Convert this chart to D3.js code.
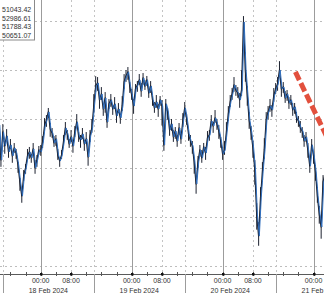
<!DOCTYPE html>
<meta charset="utf-8">
<style>
    html,
    body {
        margin: 0;
        padding: 0;
        background: #fff;
    }

    svg {
        display: block;
    }

    text {
        font-family: "Liberation Sans", Arial, sans-serif;
        font-size: 7px;
        fill: #333;
    }
</style>
<svg id="canvas" width="324" height="293"></svg>
<script src="https://cdn.jsdelivr.net/npm/d3@7/dist/d3.min.js"></script>
<script>
    // 30 minute closes, first one at 17 Feb 2024 13:00 UTC
    const startTime = Date.UTC(2024, 1, 17, 13, 0);
    const stepMinutes = 30;
    const closes = [
        51936, 51580, 51865, 51723, 51824, 51662, 51733, 51621, 51702, 51651,
        51529, 51356, 51214, 51417, 51499, 51621, 51662, 51601, 51692, 51499,
        51580, 51682, 51662, 51763, 51926, 51987, 52069, 51896, 51855, 51753,
        51794, 51631, 51570, 51631, 51763, 51906, 51845, 51743, 51814, 51723,
        51865, 51967, 51824, 51784, 51845, 51743, 51794, 51611, 51824, 51906,
        52130, 52333, 52364, 52191, 52252, 52099, 52211, 51967, 52150, 52191,
        52099, 52150, 52028, 52099, 52008, 52130, 52374, 52435, 52476, 52333,
        52242, 52130, 52303, 52344, 52395, 52283, 52415, 52333, 52395, 52262,
        52333, 52191, 52110, 52171, 52099, 52191, 52130, 51733, 52150, 52069,
        51886, 51947, 51814, 51875, 51774, 51906, 51794, 51977, 52110, 51998,
        51845, 51774, 51723, 51560, 51336, 51560, 51682, 51601, 51713, 51651,
        51804, 51835, 51977, 51926, 52008, 51947, 51875, 51774, 51641, 51682,
        51865, 52048, 52171, 52252, 52344, 52293, 52262, 52191, 52293, 52985,
        52496, 52242, 51987, 51865, 51702, 51478, 51020, 50806, 51193, 51458,
        51682, 51987, 52069, 52130, 52089, 52232, 52303, 52354, 52496, 52303,
        52323, 52211, 52252, 52160, 52191, 52089, 52120, 52008, 51977, 51906,
        51875, 51774, 51814, 51682, 51519, 51733, 51621, 51458, 51214, 51031,
        50898, 51356, 51428
    ];
    // how far each bar traded above / below its close ($)
    const wickUp = [
        60, 40, 80, 50, 70, 40, 60, 30, 50, 40,
        30, 40, 50, 60, 40, 70, 50, 40, 60, 80,
        50, 40, 70, 60, 80, 50, 40, 60, 50, 70,
        40, 60, 30, 50, 70, 60, 40, 50, 70, 40,
        60, 80, 40, 50, 60, 40, 70, 50, 60, 90,
        120, 100, 60, 50, 70, 40, 60, 80, 50, 60,
        40, 70, 50, 60, 40, 100, 80, 60, 50, 40,
        60, 70, 50, 40, 60, 80, 50, 60, 40, 70,
        50, 40, 60, 70, 50, 40, 60, 80, 50, 40,
        60, 50, 70, 40, 60, 50, 40, 80, 60, 50,
        40, 60, 50, 40, 70, 60, 50, 80, 40, 60,
        70, 50, 60, 40, 80, 50, 60, 40, 70, 90,
        100, 80, 70, 60, 80, 50, 60, 70, 200, 60,
        180, 90, 80, 60, 70, 100, 120, 140, 110, 100,
        120, 80, 60, 70, 50, 80, 60, 70, 90, 60,
        50, 70, 40, 60, 50, 70, 40, 60, 50, 70,
        40, 60, 50, 70, 80, 60, 50, 70, 90, 80,
        100, 70, 60
    ];
    const wickDown = [
        150, 70, 60, 80, 50, 60, 40, 70, 50, 60,
        80, 90, 70, 50, 60, 40, 70, 50, 40, 60,
        70, 50, 40, 60, 50, 70, 60, 80, 50, 40,
        70, 50, 60, 40, 50, 70, 60, 40, 50, 70,
        50, 40, 60, 80, 50, 70, 40, 90, 60, 50,
        70, 60, 80, 90, 60, 70, 150, 60, 50, 70,
        60, 50, 70, 40, 60, 50, 70, 60, 80, 70,
        50, 80, 60, 70, 50, 60, 70, 40, 60, 50,
        70, 60, 50, 60, 80, 60, 200, 60, 70, 80,
        60, 70, 50, 80, 60, 70, 50, 60, 70, 60,
        70, 60, 80, 120, 100, 60, 70, 50, 60, 70,
        50, 60, 40, 70, 50, 60, 80, 70, 60, 50,
        60, 70, 50, 60, 70, 60, 50, 80, 60, 90,
        120, 110, 90, 80, 100, 150, 150, 100, 120, 100,
        90, 70, 80, 60, 70, 60, 50, 70, 60, 80,
        60, 50, 70, 60, 50, 60, 70, 50, 60, 50,
        70, 60, 50, 80, 70, 60, 80, 90, 70, 100,
        120, 80, 70
    ];

    // crosshair readout, top left
    const ohlcLabels = ["51043.42", "52986.61", "51788.43", "50651.07"];

    const priceGrid = [50500, 51000, 51500, 52000, 52500, 53000];
    const dayLabels = ["18 Feb 2024", "19 Feb 2024", "20 Feb 2024", "21 Feb 2024"];
    const dayStarts = [
        Date.UTC(2024, 1, 18), Date.UTC(2024, 1, 19),
        Date.UTC(2024, 1, 20), Date.UTC(2024, 1, 21)
    ];
    const sessionBreaks = [
        Date.UTC(2024, 1, 17, 14), Date.UTC(2024, 1, 18, 14),
        Date.UTC(2024, 1, 19, 14), Date.UTC(2024, 1, 20, 14),
        Date.UTC(2024, 1, 21, 14)
    ];
    const hourLabels = [
        [Date.UTC(2024, 1, 18, 0), "00:00"], [Date.UTC(2024, 1, 18, 8), "08:00"],
        [Date.UTC(2024, 1, 19, 0), "00:00"], [Date.UTC(2024, 1, 19, 8), "08:00"],
        [Date.UTC(2024, 1, 20, 0), "00:00"], [Date.UTC(2024, 1, 20, 8), "08:00"],
        [Date.UTC(2024, 1, 21, 0), "00:00"]
    ];

    // red dashed trend line drawn over the chart
    const trendLine = [
        [Date.UTC(2024, 1, 20, 19, 12), 52476],
        [Date.UTC(2024, 1, 21, 9, 38), 51328]
    ];

    var width = 324,
        height = 293,
        axisY = 274;

    var svg = d3.select("#canvas");

    var x = d3.scaleUtc()
        .domain([Date.UTC(2024, 1, 17, 13, 15), Date.UTC(2024, 1, 21, 2, 45)])
        .range([0, width]);

    var y = d3.scaleLinear()
        .domain([50500, 53000])
        .range([266, 20.5]);

    var series = closes.map(function(c, i) {
        return {
            t: new Date(startTime + i * stepMinutes * 60000),
            v: c,
            hi: c + wickUp[i],
            lo: c - wickDown[i]
        };
    });

    svg.append("defs").append("clipPath")
        .attr("id", "plot")
        .append("rect")
        .attr("width", width)
        .attr("height", axisY);

    //horizontal grid
    svg.append("g")
        .selectAll("line")
        .data(priceGrid)
        .enter().append("line")
        .attr("x1", 0)
        .attr("x2", width)
        .attr("y1", function(d) { return Math.round(y(d)) + 0.5; })
        .attr("y2", function(d) { return Math.round(y(d)) + 0.5; })
        .attr("stroke", "#bdbdbd")
        .attr("stroke-dasharray", "2,3");

    //dotted verticals at 08:00 and at the session breaks
    var dotted = hourLabels.filter(function(d) { return d[1] === "08:00"; })
        .map(function(d) { return d[0]; })
        .concat(sessionBreaks);

    svg.append("g")
        .selectAll("line")
        .data(dotted)
        .enter().append("line")
        .attr("x1", function(d) { return Math.round(x(d)) + 0.5; })
        .attr("x2", function(d) { return Math.round(x(d)) + 0.5; })
        .attr("y1", 0)
        .attr("y2", axisY)
        .attr("stroke", "#c4c4c4")
        .attr("stroke-dasharray", "2,3");

    //solid day lines
    svg.append("g")
        .selectAll("line")
        .data(dayStarts)
        .enter().append("line")
        .attr("x1", function(d) { return Math.round(x(d)) + 0.5; })
        .attr("x2", function(d) { return Math.round(x(d)) + 0.5; })
        .attr("y1", 0)
        .attr("y2", axisY)
        .attr("stroke", "#9c9c9c");

    var line = d3.line()
        .x(function(d) { return x(d.t); })
        .y(function(d) { return y(d.v); });

    var plot = svg.append("g").attr("clip-path", "url(#plot)");

    plot.append("g")
        .selectAll("line")
        .data(series)
        .enter().append("line")
        .attr("x1", function(d) { return x(d.t); })
        .attr("x2", function(d) { return x(d.t); })
        .attr("y1", function(d) { return y(d.hi); })
        .attr("y2", function(d) { return y(d.lo); })
        .attr("stroke", "#1d2230")
        .attr("stroke-width", 1);

    plot.append("path")
        .datum(series)
        .attr("d", line)
        .attr("fill", "none")
        .attr("stroke", "#1d2230")
        .attr("stroke-width", 1.3)
        .attr("stroke-linejoin", "round");

    plot.append("path")
        .datum(series)
        .attr("d", line)
        .attr("transform", "translate(0.7,0)")
        .attr("fill", "none")
        .attr("stroke", "#2f6fc0")
        .attr("stroke-width", 1)
        .attr("stroke-linejoin", "round");

    plot.append("path")
        .datum(trendLine)
        .attr("d", d3.line()
            .x(function(d) { return x(d[0]); })
            .y(function(d) { return y(d[1]); }))
        .attr("fill", "none")
        .attr("stroke", "#e2503d")
        .attr("stroke-width", 5)
        .attr("stroke-dasharray", "9,3.5");

    //readout box
    var box = svg.append("g");
    box.append("rect")
        .attr("x", -1)
        .attr("y", -1)
        .attr("width", 35.5)
        .attr("height", 41)
        .attr("fill", "#fff")
        .attr("stroke", "#8a8a8a");
    box.selectAll("text")
        .data(ohlcLabels)
        .enter().append("text")
        .attr("x", 2)
        .attr("y", function(d, i) { return 12 + i * 8.7; })
        .text(function(d) { return d; });

    //time axis
    var axis = svg.append("g");
    axis.append("line")
        .attr("x1", 0)
        .attr("x2", width)
        .attr("y1", axisY + 0.5)
        .attr("y2", axisY + 0.5)
        .attr("stroke", "#5a5a5a");

    axis.selectAll(".tick")
        .data(x.ticks(d3.utcHour.every(4)))
        .enter().append("line")
        .attr("class", "tick")
        .attr("x1", function(d) { return Math.round(x(d)) + 0.5; })
        .attr("x2", function(d) { return Math.round(x(d)) + 0.5; })
        .attr("y1", axisY - 2)
        .attr("y2", axisY + 2)
        .attr("stroke", "#555");

    axis.selectAll(".mark")
        .data(hourLabels)
        .enter().append("rect")
        .attr("class", "mark")
        .attr("x", function(d) { return Math.round(x(d[0])) - 1; })
        .attr("y", axisY - 1)
        .attr("width", 2.5)
        .attr("height", 2.5)
        .attr("fill", "#111");

    axis.selectAll(".sep")
        .data(sessionBreaks)
        .enter().append("line")
        .attr("class", "sep")
        .attr("x1", function(d) { return Math.round(x(d)) + 0.5; })
        .attr("x2", function(d) { return Math.round(x(d)) + 0.5; })
        .attr("y1", axisY)
        .attr("y2", height)
        .attr("stroke", "#9c9c9c");

    axis.selectAll(".hour")
        .data(hourLabels)
        .enter().append("text")
        .attr("class", "hour")
        .attr("x", function(d) { return x(d[0]); })
        .attr("y", 282.5)
        .attr("text-anchor", "middle")
        .text(function(d) { return d[1]; });

    axis.selectAll(".day")
        .data(dayLabels)
        .enter().append("text")
        .attr("class", "day")
        .attr("x", function(d, i) { return (x(sessionBreaks[i]) + x(sessionBreaks[i + 1])) / 2; })
        .attr("y", 292.5)
        .attr("text-anchor", "middle")
        .text(function(d) { return d; });
</script>
